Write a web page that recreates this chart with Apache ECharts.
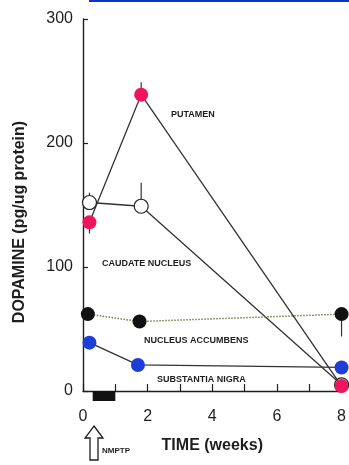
<!DOCTYPE html>
<html>
<head>
<meta charset="utf-8">
<script src="https://cdn.jsdelivr.net/npm/echarts@6/dist/echarts.min.js"></script>
<style>
  html, body { margin: 0; padding: 0; background: #fff; }
  #chart { width: 349px; height: 465px; }
</style>
</head>
<body>
<div id="chart"></div>
<script>
// Dopamine content (pg/ug protein) in four brain regions after NMPTP dosing
const putamenWeeks = [0.2, 1.8, 8];
const putamenValues = [136, 239, 4];
const putamenErrUp = [0, 10, 0];
const putamenErrDown = [9, 0, 0];

const caudateWeeks = [0.2, 1.8, 8];
const caudateValues = [152, 149, 5];
const caudateErrUp = [8, 19, 0];
const caudateErrDown = [0, 0, 0];

const accumbensWeeks = [0.15, 1.75, 8];
const accumbensValues = [62, 56, 62];
const accumbensErrUp = [0, 0, 0];
const accumbensErrDown = [0, 0, 18];

const nigraWeeks = [0.2, 1.7, 8];
const nigraValues = [39, 21, 19];

// NMPTP treatment period (weeks)
const treatmentStart = 0.3;
const treatmentEnd = 1.0;

const xTicks = [0, 1, 2, 3, 4, 5, 6, 7, 8];
const yTicks = [0, 100, 200, 300];

const FONT = '"Liberation Sans", Arial, Helvetica, sans-serif';
const INK = '#1e1e1e';
const LINE = '#333333';

const pts = (xs, ys) => xs.map((x, i) => [x, ys[i]]);
const errs = (xs, ys, up, down) => xs.map((x, i) => [x, ys[i], up[i], down[i]]);

function errorBar(params, api) {
  const up = api.value(2), down = api.value(3);
  if (!up && !down) return null;
  const x = api.value(0), y = api.value(1);
  const a = api.coord([x, y - down]);
  const b = api.coord([x, y + up]);
  return {
    type: 'line',
    shape: { x1: a[0], y1: a[1], x2: b[0], y2: b[1] },
    style: { stroke: LINE, lineWidth: 1.2 }
  };
}

function lineSeries(name, data, color, border, lineStyle, z) {
  return {
    name, type: 'line', data, z,
    symbol: 'circle', symbolSize: 14,
    itemStyle: { color, borderColor: border, borderWidth: border === color ? 0 : 1.2 },
    lineStyle: Object.assign({ color: LINE, width: 1.3 }, lineStyle),
    emphasis: { disabled: true },
    animation: false
  };
}

const chart = echarts.init(document.getElementById('chart'), null, { renderer: 'canvas' });

const option = {
  animation: false,
  backgroundColor: '#fff',
  grid: { left: 83, right: 6, top: 19, bottom: 74, containLabel: false },
  xAxis: {
    type: 'value', min: xTicks[0], max: xTicks[xTicks.length - 1], interval: 1,
    offset: 10,
    axisLine: { show: true, lineStyle: { color: INK, width: 1.4 } },
    axisTick: { show: true, inside: true, length: 7, lineStyle: { color: INK, width: 1.2 } },
    axisLabel: {
      margin: 8, color: INK, fontSize: 16, fontFamily: FONT,
      formatter: v => (v % 2 === 0 ? String(v) : '')
    },
    splitLine: { show: false },
    name: 'TIME (weeks)', nameLocation: 'middle', nameGap: 37,
    nameTextStyle: { color: INK, fontSize: 16, fontFamily: FONT, fontWeight: 'bold' }
  },
  yAxis: {
    type: 'value', min: yTicks[0], max: yTicks[yTicks.length - 1], interval: 100,
    offset: 6,
    axisLine: { show: true, lineStyle: { color: INK, width: 1.4 } },
    axisTick: { show: true, inside: true, length: 5, lineStyle: { color: INK, width: 1.2 } },
    axisLabel: { margin: 4, color: INK, fontSize: 16, fontFamily: FONT },
    splitLine: { show: false }
  },
  series: [
    {
      type: 'custom', name: 'treatment', z: 3, clip: false, silent: true,
      data: [[treatmentStart, treatmentEnd]],
      renderItem: (params, api) => {
        const a = api.coord([api.value(0), 0]);
        const b = api.coord([api.value(1), 0]);
        return { type: 'rect', shape: { x: a[0], y: a[1], width: b[0] - a[0], height: 10 },
                 style: { fill: '#111' } };
      }
    },
    { type: 'custom', name: 'caudateErr', z: 1, clip: false, silent: true,
      data: errs(caudateWeeks, caudateValues, caudateErrUp, caudateErrDown), renderItem: errorBar },
    { type: 'custom', name: 'putamenErr', z: 1, clip: false, silent: true,
      data: errs(putamenWeeks, putamenValues, putamenErrUp, putamenErrDown), renderItem: errorBar },
    { type: 'custom', name: 'accumbensErr', z: 1, clip: false, silent: true,
      data: errs(accumbensWeeks, accumbensValues, accumbensErrUp, accumbensErrDown), renderItem: errorBar },
    lineSeries('CAUDATE NUCLEUS', pts(caudateWeeks, caudateValues), '#fff', '#222', {}, 2),
    lineSeries('NUCLEUS ACCUMBENS', pts(accumbensWeeks, accumbensValues), '#111', '#111',
      { color: '#7d7d45', type: 'dotted', width: 1.5 }, 3),
    lineSeries('PUTAMEN', pts(putamenWeeks, putamenValues), '#f0145f', '#f0145f', {}, 4),
    lineSeries('SUBSTANTIA NIGRA', pts(nigraWeeks, nigraValues), '#1d3ed6', '#1d3ed6', {}, 5)
  ]
};

chart.setOption(option);

// Annotations: region names, NMPTP dosing arrow, header rule
const [arrowX] = chart.convertToPixel({ gridIndex: 0 }, [treatmentStart, 0]);
const ax = Math.round(arrowX) + 1;
const labelStyle = { fill: INK, font: 'bold 9px ' + FONT, textVerticalAlign: 'middle' };
chart.setOption({
  graphic: [
    { type: 'rect', shape: { x: 89, y: 0, width: 260, height: 2 }, style: { fill: '#0a35cc' } },
    { type: 'text', x: 171, y: 115, style: Object.assign({ text: 'PUTAMEN' }, labelStyle) },
    { type: 'text', x: 102, y: 264, style: Object.assign({ text: 'CAUDATE NUCLEUS' }, labelStyle) },
    { type: 'text', x: 144, y: 341, style: Object.assign({ text: 'NUCLEUS ACCUMBENS' }, labelStyle) },
    { type: 'text', x: 157, y: 380, style: Object.assign({ text: 'SUBSTANTIA NIGRA' }, labelStyle) },
    {
      type: 'text', x: 20, y: 222, rotation: Math.PI / 2,
      style: { text: 'DOPAMINE (pg/ug protein)', fill: INK, font: 'bold 16px ' + FONT,
               textAlign: 'center', textVerticalAlign: 'middle' }
    },
    {
      type: 'polygon',
      shape: { points: [[ax, 426], [ax + 9, 438], [ax + 4, 438], [ax + 4, 460],
                        [ax - 4, 460], [ax - 4, 438], [ax - 9, 438]] },
      style: { fill: '#fff', stroke: INK, lineWidth: 1.3 }
    },
    { type: 'text', x: ax + 8, y: 451,
      style: { text: 'NMPTP', fill: INK, font: 'bold 8px ' + FONT, textVerticalAlign: 'middle' } }
  ]
});
</script>
</body>
</html>
